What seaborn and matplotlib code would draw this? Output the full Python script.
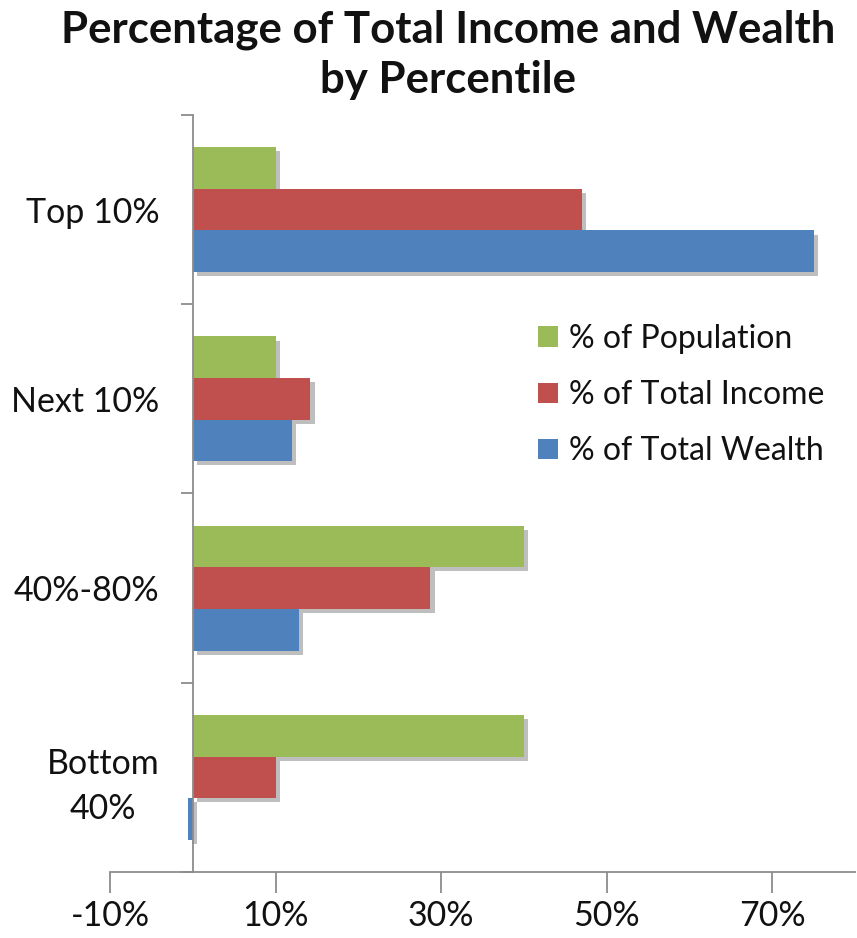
import matplotlib
matplotlib.use("Agg")
import matplotlib.pyplot as plt
import matplotlib.patheffects as pe
from matplotlib.ticker import FixedLocator, FuncFormatter
import seaborn as sns
import pandas as pd

categories = ["Top 10%", "Next 10%", "40%-80%", "Bottom\n40%"]
series = ["% of Population", "% of Total Income", "% of Total Wealth"]
population = [10.0, 10.0, 40.0, 40.0]
income = [47.0, 14.2, 28.7, 10.0]
wealth = [75.0, 12.0, 12.8, -0.6]
colors = ["#9BBB59", "#C0504D", "#4F81BD"]
xticks = [-10, 10, 30, 50, 70]

rows = []
for s, vals in zip(series, [population, income, wealth]):
    for c, v in zip(categories, vals):
        rows.append({"Group": c, "Series": s, "Value": v})
df = pd.DataFrame(rows)

sns.set_theme(style="white")
plt.rcParams["font.family"] = ["Lato", "DejaVu Sans"]

fig = plt.figure(figsize=(8.57, 9.38), dpi=100)
ax = fig.add_axes([110 / 857, 1 - 872 / 938, 1 - 110 / 857 - 0.002, (872 - 115) / 938])

sns.barplot(data=df, y="Group", x="Value", hue="Series", order=categories,
            hue_order=series, palette=colors, orient="h", width=0.66,
            saturation=1, ax=ax, legend=True)

shadow = [pe.SimplePatchShadow(offset=(3, -3), shadow_rgbFace="#8a8a8a", alpha=0.55), pe.Normal()]
for p in ax.patches:
    p.set_linewidth(0)
    p.set_path_effects(shadow)

ax.set_xlim(-10, 80)
ax.set_ylim(3.5, -0.5)
ax.set_xlabel("")
ax.set_ylabel("")

for side in ["top", "right"]:
    ax.spines[side].set_visible(False)
ax.spines["left"].set_position(("data", 0))
for side in ["left", "bottom"]:
    ax.spines[side].set_color("#8C8C8C")
    ax.spines[side].set_linewidth(1.3)

ax.xaxis.set_major_locator(FixedLocator(xticks))
ax.xaxis.set_major_formatter(FuncFormatter(lambda v, _: f"{v:.0f}%"))
ax.tick_params(axis="x", which="major", direction="out", length=15, width=1.3,
               color="#8C8C8C", labelsize=24.5, pad=5, bottom=True)

ax.yaxis.set_minor_locator(FixedLocator([-0.5, 0.5, 1.5, 2.5, 3.5]))
ax.tick_params(axis="y", which="minor", direction="out", length=9, width=1.3,
               color="#8C8C8C", left=True)
ax.tick_params(axis="y", which="major", length=0, labelsize=24.5, pad=24)
for lbl in ax.get_yticklabels():
    lbl.set_multialignment("center")
    lbl.set_linespacing(1.5)

for lbl in ax.get_xticklabels() + ax.get_yticklabels():
    lbl.set_color("#111111")

leg = ax.legend(loc="upper left", bbox_to_anchor=(0.536, 0.762), frameon=False,
                fontsize=23, handlelength=0.62, handleheight=0.62,
                handletextpad=0.35, labelspacing=0.82)
for h in leg.legend_handles:
    h.set_path_effects([])
for t in leg.get_texts():
    t.set_color("#111111")

fig.text(0.523, 0.99, "Percentage of Total Income and Wealth\nby Percentile",
         ha="center", va="top", fontsize=31.5, fontweight="bold",
         linespacing=1.3, color="#111111")

fig.savefig("out.png", dpi=100, facecolor="white")
